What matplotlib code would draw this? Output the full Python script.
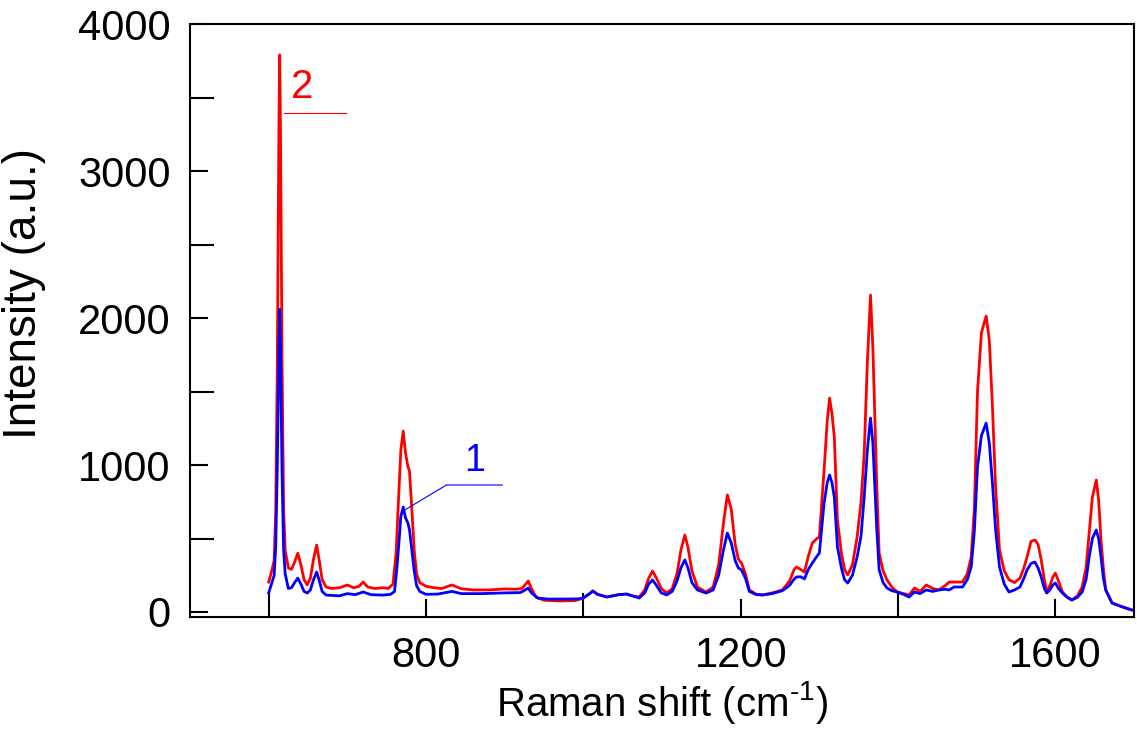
import numpy as np
import matplotlib
matplotlib.use('Agg')
import matplotlib.pyplot as plt

plt.rcParams['font.family'] = ['Liberation Sans', 'DejaVu Sans']
plt.rcParams['mathtext.default'] = 'regular'

# spectrum 2 (red)
shift2 = [600, 603, 607, 609, 611, 613, 614, 615, 617, 619, 621, 625, 629, 633, 637, 641, 645, 649,
          653, 657, 661, 664, 668, 673, 680, 690, 700, 708, 715, 720, 726, 735, 745, 752, 758, 762,
          765, 768, 771, 774, 777, 779, 782, 785, 788, 792, 800, 810, 820, 833, 845, 860, 880, 900,
          915, 922, 926, 930, 934, 940, 950, 970, 990, 1000, 1008, 1012, 1018, 1030, 1045, 1055,
          1062, 1071, 1078, 1083, 1088, 1093, 1099, 1106, 1113, 1119, 1124, 1129, 1133, 1138, 1145,
          1156, 1165, 1172, 1178, 1183, 1188, 1193, 1197, 1201, 1206, 1211, 1220, 1228, 1240, 1253,
          1262, 1268, 1271, 1276, 1281, 1286, 1291, 1297, 1300, 1306, 1310, 1313, 1316, 1319, 1323,
          1328, 1332, 1336, 1342, 1348, 1353, 1357, 1361, 1365, 1368, 1370, 1373, 1376, 1381, 1386,
          1392, 1399, 1407, 1414, 1421, 1428, 1436, 1444, 1452, 1460, 1465, 1471, 1482, 1488, 1493,
          1497, 1501, 1506, 1512, 1516, 1520, 1524, 1529, 1535, 1541, 1548, 1555, 1560, 1564, 1569,
          1574, 1578, 1582, 1586, 1589, 1593, 1597, 1600, 1604, 1609, 1615, 1621, 1628, 1634, 1639,
          1643, 1647, 1652, 1655, 1658, 1661, 1664, 1672, 1685, 1697]
int2 = [204, 260, 350, 700, 1700, 3300, 3790, 3300, 1700, 700, 420, 300, 290, 340, 400, 320, 220, 184,
        230, 360, 455, 360, 220, 170, 160, 165, 184, 165, 175, 204, 170, 160, 165, 160, 190, 400,
        760, 1100, 1231, 1080, 990, 960, 700, 420, 260, 200, 175, 165, 160, 184, 158, 150, 150, 157,
        155, 160, 185, 211, 160, 100, 80, 75, 78, 95, 125, 143, 120, 102, 118, 122,
        110, 102, 150, 230, 279, 230, 160, 129, 160, 260, 420, 524, 440, 280, 170,
        136, 170, 320, 600, 796, 700, 460, 360, 333, 260, 150, 120, 116, 130, 150,
        210, 290, 306, 290, 272, 380, 469, 500, 510, 966, 1300, 1455, 1350, 1190, 626,
        400, 290, 252, 320, 510, 750, 1081, 1700, 2156, 1800, 1421, 850, 401, 280, 218,
        170, 136, 125, 116, 163, 140, 184, 160, 150, 180, 204, 204, 204, 260, 374,
        700, 1500, 1900, 2013, 1850, 1400, 850, 422, 280, 220, 200, 230, 300, 374, 480,
        490, 460, 354, 220, 136, 180, 240, 265, 210, 136, 100, 82, 110, 170, 300,
        537, 780, 898, 760, 490, 300, 150, 61, 35, 14]

# spectrum 1 (blue)
shift1 = [600, 603, 607, 609, 611, 613, 614, 615, 617, 619, 621, 625, 629, 633, 637, 641, 645, 649,
          653, 657, 661, 664, 668, 673, 690, 700, 710, 720, 730, 745, 755, 760, 763, 766, 768, 771,
          774, 777, 779, 782, 785, 788, 792, 800, 815, 833, 845, 870, 900, 920, 926, 930, 934, 942,
          955, 975, 995, 1000, 1008, 1012, 1018, 1030, 1045, 1055, 1062, 1071, 1078, 1083, 1088,
          1093, 1099, 1106, 1113, 1119, 1124, 1129, 1133, 1138, 1145, 1156, 1165, 1172, 1178, 1183,
          1188, 1193, 1197, 1201, 1206, 1211, 1220, 1228, 1240, 1253, 1262, 1268, 1271, 1276, 1281,
          1286, 1291, 1297, 1300, 1306, 1310, 1313, 1316, 1319, 1323, 1328, 1332, 1336, 1342, 1348,
          1353, 1357, 1361, 1365, 1368, 1370, 1373, 1376, 1381, 1386, 1392, 1399, 1407, 1414, 1421,
          1428, 1436, 1444, 1452, 1460, 1465, 1471, 1482, 1488, 1493, 1497, 1501, 1506, 1512, 1516,
          1520, 1524, 1529, 1535, 1541, 1548, 1555, 1560, 1564, 1569, 1574, 1578, 1582, 1586, 1589,
          1593, 1597, 1600, 1604, 1609, 1615, 1621, 1628, 1634, 1639, 1643, 1647, 1652, 1655, 1658,
          1661, 1664, 1672, 1685, 1697]
int1 = [129, 180, 250, 450, 1000, 1800, 2060, 1800, 950, 420, 260, 160, 165, 200, 231, 190, 140, 129,
        150, 220, 272, 220, 140, 115, 110, 125, 118, 136, 118, 115, 120, 140, 300, 500, 650, 714,
        640, 605, 560, 420, 280, 180, 140, 120, 122, 140, 125, 125, 130, 132, 150, 163, 130, 95,
        88, 88, 90, 95, 125, 143, 120, 102, 118, 122, 110, 95, 130, 190, 218,
        180, 130, 116, 140, 210, 300, 354, 300, 200, 150, 129, 150, 250, 420, 537,
        470, 350, 300, 286, 230, 140, 118, 116, 125, 145, 180, 225, 238, 240, 225,
        290, 333, 380, 401, 741, 880, 932, 880, 782, 442, 300, 220, 197, 250, 374,
        520, 782, 1100, 1319, 1150, 918, 560, 286, 200, 163, 145, 136, 120, 102, 136,
        125, 150, 140, 150, 155, 150, 170, 170, 220, 306, 550, 986, 1200, 1285, 1150,
        877, 560, 306, 190, 136, 150, 170, 230, 286, 330, 340, 300, 238, 160, 129,
        150, 185, 197, 160, 129, 100, 82, 100, 136, 220, 374, 500, 558, 500, 374,
        230, 150, 61, 35, 14]

x_major = [800, 1200, 1600]
x_minor = [600, 1000, 1400]
y_major = [0, 1000, 2000, 3000, 4000]
y_minor = [500, 1500, 2500, 3500]

if __name__ == '__main__':
    fig = plt.figure(figsize=(11.37, 7.30), dpi=100)
    ax = fig.add_axes([0.1671, 0.1548, 0.8303, 0.8123])

    ax.plot(shift2, int2, color='#ff0000', lw=2.0)
    ax.plot(shift1, int1, color='#0000ff', lw=2.0)

    ax.set_xlim(500, 1700)
    ax.set_ylim(-34, 4000)

    ax.set_xticks(x_major)
    ax.set_xticks(x_minor, minor=True)
    ax.set_yticks(y_major)
    ax.set_yticks(y_minor, minor=True)
    ax.tick_params(which='both', direction='in', width=1.5, labelsize=30, pad=14)
    ax.tick_params(which='major', length=13)
    ax.tick_params(which='minor', length=17)
    for s in ax.spines.values():
        s.set_linewidth(1.5)

    ax.set_xlabel('Raman shift (cm$^{\u2010 1}$)', fontsize=29)
    ax.set_ylabel('Intensity (a.u.)', fontsize=33)
    ax.xaxis.set_label_coords(0.5, -0.105)
    ax.yaxis.set_label_coords(-0.152, 0.546)

    # curve labels
    ax.text(643, 3570, '2', color='#ff0000', fontsize=29, ha='center', va='center')
    ax.plot([619, 698], [3393, 3393], color='#ff0000', lw=0.8)
    ax.text(862, 1027, '1', color='#0000ff', fontsize=27, ha='center', va='center')
    ax.plot([773, 826, 897], [694, 864, 864], color='#0000ff', lw=0.8)

    fig.savefig('out.png', dpi=100)
